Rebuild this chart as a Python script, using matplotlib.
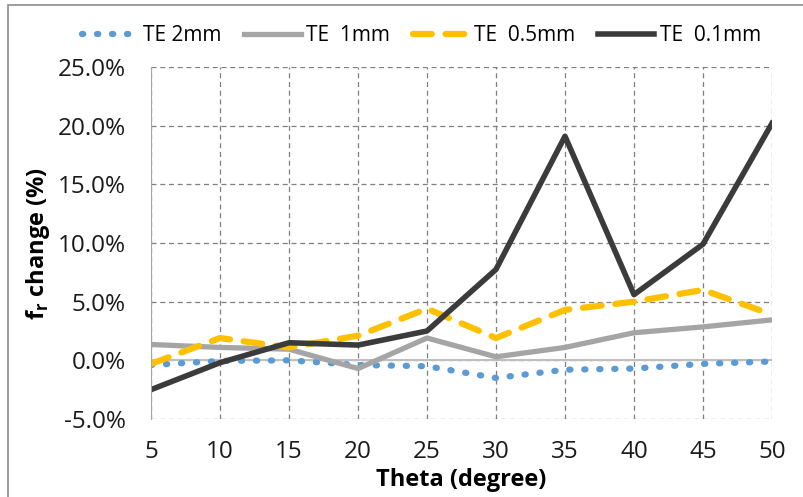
import numpy as np
import matplotlib.pyplot as plt
from matplotlib.patches import Rectangle
from matplotlib.ticker import FuncFormatter

plt.rcParams['font.family'] = ['Open Sans', 'DejaVu Sans']

theta = [5, 10, 15, 20, 25, 30, 35, 40, 45, 50]
te_2mm = [-0.4, -0.05, 0.0, -0.4, -0.5, -1.5, -0.8, -0.7, -0.3, -0.1]
te_1mm = [1.35, 1.1, 0.95, -0.7, 1.9, 0.3, 1.1, 2.35, 2.85, 3.45]
te_05mm = [-0.3, 1.9, 1.1, 2.1, 4.4, 1.9, 4.3, 5.0, 6.0, 3.9]
te_01mm = [-2.5, -0.2, 1.5, 1.3, 2.5, 7.75, 19.1, 5.6, 9.9, 20.2]

fig = plt.figure(figsize=(8.04, 4.97), dpi=100)
ax = fig.add_axes([151 / 804, 78 / 497, 621 / 804, 352 / 497])

# outer chart frame
fig.patches.append(Rectangle((8 / 804, -0.1), 1.2, (492 / 497) + 0.1,
                             transform=fig.transFigure, fill=False,
                             edgecolor='#8c8c8c', lw=1.2))

ax.plot(theta, te_2mm, color='#5b9bd5', lw=4.5, linestyle=(0, (0.2, 2.2)),
        dash_capstyle='round', label='TE 2mm')
ax.plot(theta, te_1mm, color='#a5a5a5', lw=3.8, label='TE  1mm')
ax.plot(theta, te_05mm, color='#ffc000', lw=4.5, linestyle=(0, (3, 2.2)),
        dash_capstyle='round', label='TE  0.5mm')
ax.plot(theta, te_01mm, color='#3b3b3b', lw=4, label='TE  0.1mm')

ax.set_xlim(5, 50)
ax.set_ylim(-5, 25)
ax.set_xticks(theta)
ax.set_yticks(np.arange(-5, 26, 5))
ax.yaxis.set_major_formatter(FuncFormatter(lambda v, p: f'{v:.1f}%'))
ax.tick_params(length=0, labelsize=17.5, colors='#1a1a1a')
ax.tick_params(axis='y', pad=18)
ax.tick_params(axis='x', pad=15)
ax.grid(True, color='#7f7f7f', linestyle=(0, (4, 3)), lw=0.9)
ax.axhline(0, color='#bfbfbf', lw=1.5, zorder=1)
ax.set_axisbelow(True)

for side in ['top', 'right', 'bottom']:
    ax.spines[side].set_visible(False)
ax.spines['left'].set_color('#a6a6a6')

ax.set_xlabel('Theta (degree)', fontsize=17, fontweight='bold', labelpad=3)
ax.set_ylabel(r'f$_\mathregular{r}$ change (%)', fontsize=17, fontweight='bold', labelpad=4)

ax.legend(loc='center', bbox_to_anchor=(0.435, 1.09), ncol=4, frameon=False,
          fontsize=15, handlelength=2.7, columnspacing=1.1, handletextpad=0.25)

fig.savefig('out.png', dpi=100)
